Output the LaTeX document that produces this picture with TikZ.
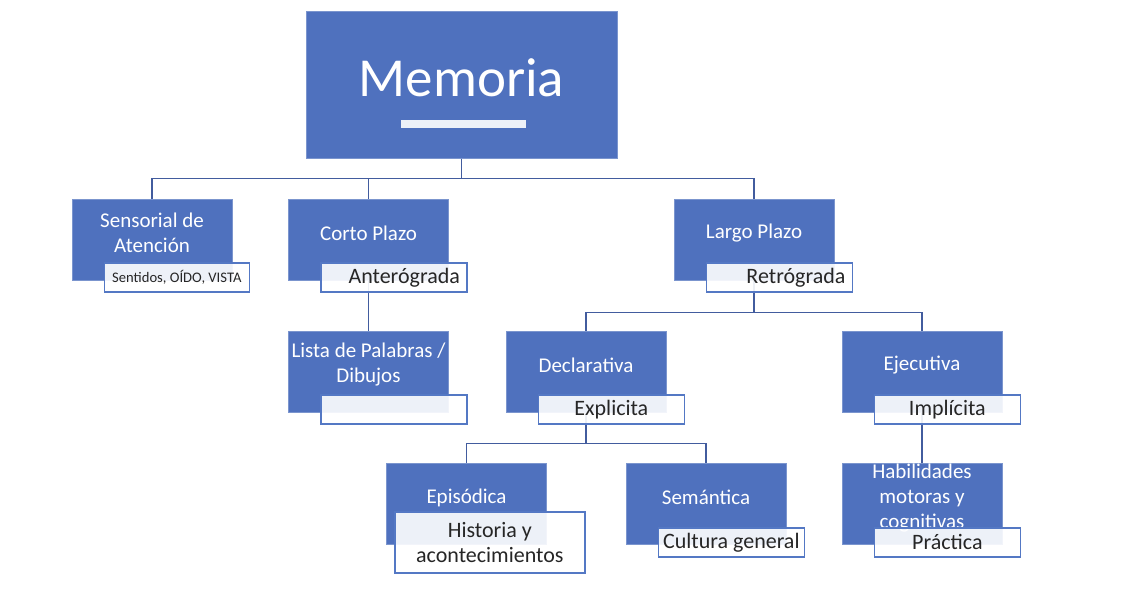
\documentclass[tikz,border=0pt]{standalone}
\usepackage{fontspec}
\setmainfont{Carlito}
\usetikzlibrary{positioning,backgrounds}
\definecolor{boxblue}{RGB}{79,113,190}
\definecolor{edgeblue}{RGB}{84,120,196}
\definecolor{linkblue}{RGB}{66,92,158}
\tikzset{
  mainbox/.style={fill=boxblue, draw=boxblue!75!white, line width=0.6pt, minimum width=160pt, minimum height=81pt, inner sep=0pt},
  maintext/.style={text=white, align=center, font=\fontsize{21}{25}\selectfont},
  subbox/.style={draw=edgeblue, line width=1.3pt, fill=white, fill opacity=0.9, text opacity=1, text=black!85, minimum width=146pt, minimum height=29pt, inner sep=0pt, align=center, font=\fontsize{22}{25}\selectfont, anchor=north west, xshift=32pt, yshift=18pt},
  link/.style={draw=linkblue, line width=1.4pt},
}
\begin{document}
\begin{tikzpicture}[x=1pt,y=-1pt]
        \useasboundingbox (0,0) rectangle (1142,594);
        \node [mainbox, minimum width=311pt, minimum height=147pt, label={[maintext, font=\fontsize{55}{60}\selectfont, yshift=7pt]center:Memoria}] (mem) at (461.5,84.5) {};
        \fill [white, fill opacity=0.9] (401,120) rectangle (526,128);
        \node [mainbox, label={[maintext, yshift=7pt]center:Sensorial de\\Atención}] (sen) at (152,239.5) {};
        \node [subbox, minimum width=145pt, font=\fontsize{14.6}{17}\selectfont] (sensub) at (sen.south west) {Sentidos, OÍDO, VISTA};
        \node [mainbox, label={[maintext, yshift=6pt]center:Corto Plazo}] (cor) at (368.5,239.5) {};
        \node [subbox, text width=132pt, align=right] (corsub) at (cor.south west) {Anterógrada};
        \node [mainbox, label={[maintext, yshift=6pt]center:Largo Plazo}] (lar) at (754,239.5) {};
        \node [subbox, text width=132pt, align=right] (larsub) at (lar.south west) {Retrógrada};
        \node [mainbox, label={[maintext, yshift=7pt]center:Lista de Palabras /\\Dibujos}] (lis) at (368.5,371.5) {};
        \node [subbox] (lissub) at (lis.south west) {};
        \node [mainbox, label={[maintext, yshift=6pt]center:Declarativa}] (dec) at (586,371.5) {};
        \node [subbox] (decsub) at (dec.south west) {Explicita};
        \node [mainbox, label={[maintext, yshift=6pt]center:Ejecutiva}] (eje) at (922,371.5) {};
        \node [subbox] (ejesub) at (eje.south west) {Implícita};
        \node [mainbox, label={[maintext, yshift=6pt]center:Episódica}] (epi) at (466.5,503.5) {};
        \node [subbox, xshift=-24pt, yshift=15pt, minimum width=190pt, minimum height=61pt] (episub) at (epi.south west) {Historia y\\acontecimientos};
        \node [mainbox, label={[maintext, yshift=6pt]center:Semántica}] (sem) at (706,503.5) {};
        \node [subbox, yshift=-1pt] (semsub) at (sem.south west) {Cultura general};
        \node [mainbox, label={[maintext, yshift=5pt]center:Habilidades\\motoras y\\cognitivas}] (hab) at (922,503.5) {};
        \node [subbox, yshift=-1pt] (habsub) at (hab.south west) {Práctica};
        \begin{scope}[on background layer]
        \draw [link] (mem.south) -- ++(0,20) -| (sen.north);
        \draw [link] (mem.south) -- ++(0,20) -| (cor.north);
        \draw [link] (mem.south) -- ++(0,20) -| (lar.north);
        \draw [link] (cor.south) -- (lis.north);
        \draw [link] (lar.south) -- ++(0,32) -| (dec.north);
        \draw [link] (lar.south) -- ++(0,32) -| (eje.north);
        \draw [link] (dec.south) -- ++(0,31) -| (epi.north);
        \draw [link] (dec.south) -- ++(0,31) -| (sem.north);
        \draw [link] (eje.south) -- (hab.north);
        \end{scope}
\end{tikzpicture}
\end{document}
